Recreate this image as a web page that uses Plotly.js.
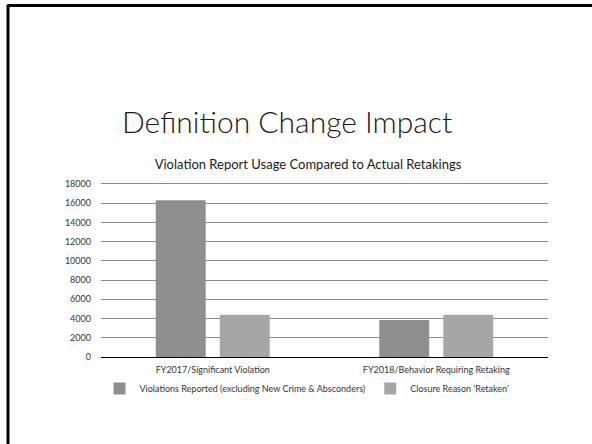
<!DOCTYPE html>
<html>
<head>
<meta charset="utf-8">
<script src="https://cdn.plot.ly/plotly-3.0.1.min.js"></script>
<style>html,body{margin:0;padding:0;background:#fff;}#chart{width:592px;height:444px;}</style>
</head>
<body>
<div id="chart"></div>
<script>
const categories = ["FY2017/Significant Violation", "FY2018/Behavior Requiring Retaking"];
const seriesNames = ["Violations Reported (excluding New Crime & Absconders)", "Closure Reason 'Retaken'"];
const violationsReported = [16300, 3850];
const closureRetaken = [4400, 4400];
const yTicks = [0, 2000, 4000, 6000, 8000, 10000, 12000, 14000, 16000, 18000];

const FONT = "Lato, 'Open Sans', sans-serif";

const traces = [
  {type: "bar", name: seriesNames[0], x: categories, y: violationsReported,
   marker: {color: "#8f8f8f"}, hoverinfo: "x+y"},
  {type: "bar", name: seriesNames[1], x: categories, y: closureRetaken,
   marker: {color: "#a6a6a6"}, hoverinfo: "x+y"}
];

// plot area pixels: x 101..548, y 182..357.5 (18000 sits at y=184)
const L = 101, R = 548, T = 182, B = 357.5;
const px = v => (v - L) / (R - L);
const py = v => (B - v) / (B - T);

const layout = {
  width: 592, height: 444,
  margin: {l: L, r: 592 - R, t: T, b: 444 - B, pad: 0},
  paper_bgcolor: "#ffffff", plot_bgcolor: "#ffffff",
  font: {family: FONT, size: 9, color: "#333333"},
  barmode: "group", bargap: 0.427, bargroupgap: 0.22,
  showlegend: true,
  legend: {orientation: "h", x: px(307), xanchor: "center", y: py(389), yanchor: "middle",
           font: {family: FONT, size: 9, color: "#333333"}, itemwidth: 30, bgcolor: "rgba(0,0,0,0)"},
  title: {text: "Violation Report Usage Compared to Actual Retakings",
          font: {family: FONT, size: 13, color: "#1a1a1a"},
          xref: "container", x: 308 / 592, xanchor: "center",
          yref: "container", y: 1 - 164 / 444, yanchor: "middle"},
  xaxis: {type: "category", showgrid: false, showline: true, linecolor: "#000000", linewidth: 1.3,
          ticks: "", ticklabelstandoff: 4, tickfont: {family: FONT, size: 9, color: "#333333"}, fixedrange: true},
  yaxis: {range: [0, 18200], tickvals: yTicks, ticktext: yTicks.map(String),
          showgrid: true, gridcolor: "#8a8a8a", gridwidth: 1, zeroline: false, showline: false,
          ticks: "", ticklabelstandoff: 9, tickfont: {family: FONT, size: 9, color: "#333333"}, fixedrange: true},
  annotations: [
    {text: "Definition Change Impact", xref: "paper", yref: "paper",
     x: px(120), y: py(121), xanchor: "left", yanchor: "middle", showarrow: false,
     font: {family: FONT, size: 30, weight: 300, color: "#1a1a1a"}}
  ],
  shapes: [
    {type: "line", xref: "paper", yref: "paper", x0: px(8), x1: px(600), y0: py(5), y1: py(5),
     line: {color: "#000000", width: 3}},
    {type: "line", xref: "paper", yref: "paper", x0: px(8), x1: px(8), y0: py(4), y1: py(450),
     line: {color: "#000000", width: 3}}
  ]
};

Plotly.newPlot("chart", traces, layout, {displayModeBar: false, staticPlot: true});
</script>
</body>
</html>
